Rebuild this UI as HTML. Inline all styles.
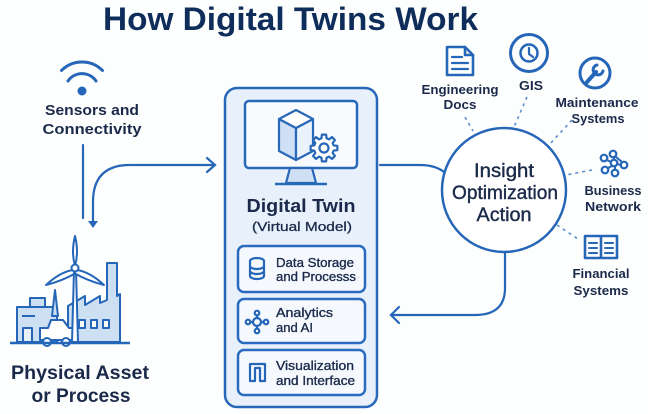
<!DOCTYPE html>
<html><head><meta charset="utf-8"><style>
html,body{margin:0;padding:0;background:#fff;}
svg{display:block;}
text{font-family:"Liberation Sans",Arial,sans-serif;}
</style></head><body>
<svg width="648" height="414" viewBox="0 0 648 414" xmlns="http://www.w3.org/2000/svg">
<rect width="648" height="414" fill="#fdfefe"/>
<!-- Title -->
<text x="103" y="30" font-size="32" font-weight="bold" fill="#0f2d5a" textLength="375" lengthAdjust="spacingAndGlyphs">How Digital Twins Work</text>

<!-- Wifi -->
<g fill="none" stroke="#2566b8" stroke-width="3" stroke-linecap="round">
<path d="M61.5,70.5 A29,29 0 0,1 102.5,70.5"/>
<path d="M68,81 A17,17 0 0,1 96,81"/>
</g>
<circle cx="82" cy="91" r="4.5" fill="#2566b8"/>
<text x="92" y="115" font-size="14.5" font-weight="bold" fill="#1b2a4a" text-anchor="middle" textLength="94" lengthAdjust="spacingAndGlyphs">Sensors and</text>
<text x="92" y="134" font-size="14.5" font-weight="bold" fill="#1b2a4a" text-anchor="middle" textLength="99" lengthAdjust="spacingAndGlyphs">Connectivity</text>

<!-- Left connectors -->
<g fill="none" stroke="#2566b8" stroke-width="2.2" stroke-linecap="round">
<line x1="83" y1="145" x2="83" y2="218"/>
<path d="M93,222 V202 Q93,165 130,165 H214"/>
<path d="M207,158 L215,165 L207,172"/>
</g>
<path d="M88,221 L98,221 L93,228 Z" fill="#2566b8"/>

<!-- Factory -->
<g stroke="#2566b8" stroke-width="2" stroke-linejoin="round" fill="#cddff3">
<path d="M68,342 V306 L85,296 V305 L100,296 V303 L107,300 V263 H117 V296 L120,294 V342 Z"/>
<rect x="17" y="307" width="40" height="35"/>
<rect x="30" y="298" width="15" height="9"/>
<path d="M52,316 L55,290 L58,316 Z"/>
<rect x="23" y="328" width="9" height="14" fill="#e8f0fa"/>
<path d="M40,340 V328 H48 L51,320 H63 L69,328 H73 V340 Z" fill="#fff"/>
<circle cx="47" cy="342" r="4" fill="#fff"/>
<circle cx="66" cy="342" r="4" fill="#fff"/>
<path d="M72,342 L74,270 L76,270 L78,342 Z" fill="#fff"/>
<path d="M75,266 Q71,252 75,236 Q79,252 75,266 Z" fill="#fff"/>
<path d="M73,270 Q60,272 46,285 Q62,281 76,273 Z" fill="#fff"/>
<path d="M77,270 Q90,272 104,285 Q88,281 74,273 Z" fill="#fff"/>
<circle cx="75" cy="268" r="3.5" fill="#fff"/>
<rect x="79" y="320" width="6" height="8" fill="#fff"/>
<rect x="91" y="320" width="6" height="8" fill="#fff"/>
<rect x="103" y="320" width="6" height="8" fill="#fff"/>
</g>
<line x1="22" y1="316" x2="35" y2="316" stroke="#2566b8" stroke-width="2"/>
<line x1="10" y1="343" x2="130" y2="343" stroke="#2566b8" stroke-width="2.5"/>
<text x="80" y="379" font-size="19" font-weight="bold" fill="#1b2a4a" text-anchor="middle" textLength="138" lengthAdjust="spacingAndGlyphs">Physical Asset</text>
<text x="81" y="402" font-size="19" font-weight="bold" fill="#1b2a4a" text-anchor="middle" textLength="99" lengthAdjust="spacingAndGlyphs">or Process</text>

<!-- Digital Twin box -->
<rect x="225" y="88" width="152" height="319" rx="12" fill="#e7f0fb" stroke="#2868b8" stroke-width="2.5"/>
<rect x="245" y="101" width="112" height="67" rx="4" fill="#f8fbfe" stroke="#2868b8" stroke-width="2.5"/>
<path d="M290,168 L312,168 L316,183 L286,183 Z" fill="#cfe0f4" stroke="#2868b8" stroke-width="2.2" stroke-linejoin="round"/>
<line x1="275" y1="184" x2="327" y2="184" stroke="#2868b8" stroke-width="2.5"/>
<!-- cube -->
<g stroke="#2868b8" stroke-width="2.2" stroke-linejoin="round">
<path d="M279,119 L296,128 L296,160 L279,151 Z" fill="#cfe0f4"/>
<path d="M296,128 L313,119 L313,151 L296,160 Z" fill="#eaf2fb"/>
<path d="M296,110 L313,119 L296,128 L279,119 Z" fill="#fff"/>
</g>
<!-- gear -->
<g transform="translate(324,148)">
<polygon points="9.66,-2.59 13.34,-2.11 13.34,2.11 9.66,2.59 8.66,5 10.92,7.94 7.94,10.92 5,8.66 2.59,9.66 2.11,13.34 -2.11,13.34 -2.59,9.66 -5,8.66 -7.94,10.92 -10.92,7.94 -8.66,5 -9.66,2.59 -13.34,2.11 -13.34,-2.11 -9.66,-2.59 -8.66,-5 -10.92,-7.94 -7.94,-10.92 -5,-8.66 -2.59,-9.66 -2.11,-13.34 2.11,-13.34 2.59,-9.66 5,-8.66 7.94,-10.92 10.92,-7.94 8.66,-5" fill="#fff" stroke="#2868b8" stroke-width="2.2" stroke-linejoin="round"/>
<circle r="4.5" fill="none" stroke="#2868b8" stroke-width="2.2"/>
</g>
<text x="301" y="212" font-size="18" font-weight="bold" fill="#1b2a4a" text-anchor="middle" textLength="109" lengthAdjust="spacingAndGlyphs">Digital Twin</text>
<text x="302" y="231" font-size="13" fill="#1b2a4a" stroke="#1b2a4a" stroke-width="0.3" text-anchor="middle" textLength="100" lengthAdjust="spacingAndGlyphs">(Virtual Model)</text>

<!-- sub boxes -->
<g fill="#f5f9fe" stroke="#2a6bc0" stroke-width="2.5">
<rect x="238" y="246" width="127" height="46" rx="6"/>
<rect x="238" y="299" width="127" height="44" rx="6"/>
<rect x="238" y="350" width="127" height="45" rx="6"/>
</g>
<g fill="none" stroke="#2566b8" stroke-width="2.2" stroke-linecap="round" stroke-linejoin="round">
<path d="M250,261 A7,3 0 0,1 264,261 V276 A7,3 0 0,1 250,276 Z"/>
<path d="M250,266 A7,3 0 0,0 264,266 M250,271 A7,3 0 0,0 264,271"/>
<circle cx="257" cy="322" r="4"/>
<circle cx="257" cy="313" r="2.3"/>
<circle cx="257" cy="331" r="2.3"/>
<circle cx="248" cy="322" r="2.3"/>
<circle cx="266" cy="322" r="2.3"/>
<path d="M257,315.5 V318 M257,326 V328.5 M250.5,322 H253 M261,322 H263.5"/>
<path d="M250,381 V364 H265 V381 H260 V368 H255 V381 Z"/>
</g>
<g font-size="13" fill="#1b2a4a" stroke="#1b2a4a" stroke-width="0.35">
<text x="276" y="267" textLength="78" lengthAdjust="spacingAndGlyphs">Data Storage</text>
<text x="276" y="281" textLength="80" lengthAdjust="spacingAndGlyphs">and Processs</text>
<text x="276" y="317" textLength="57" lengthAdjust="spacingAndGlyphs">Analytics</text>
<text x="276" y="332" textLength="37" lengthAdjust="spacingAndGlyphs">and AI</text>
<text x="276" y="370" textLength="78" lengthAdjust="spacingAndGlyphs">Visualization</text>
<text x="276" y="385" textLength="79" lengthAdjust="spacingAndGlyphs">and Interface</text>
</g>

<!-- right connectors -->
<g fill="none" stroke="#2566b8" stroke-width="2.2" stroke-linecap="round">
<path d="M380,165 H420 Q435,165 444,172"/>
<path d="M505,252 V288 Q505,315 475,315 H391"/>
<path d="M399,307 L391,315 L399,323"/>
</g>

<!-- dashed lines -->
<g stroke="#5b8fd0" stroke-width="1.6" stroke-dasharray="3,4" fill="none">
<line x1="465" y1="117" x2="473" y2="131"/>
<line x1="527" y1="97" x2="514" y2="127"/>
<line x1="572" y1="120" x2="549" y2="145"/>
<line x1="592" y1="170" x2="566" y2="175"/>
<line x1="557" y1="225" x2="578" y2="239"/>
</g>

<!-- circle -->
<circle cx="504" cy="190" r="62" fill="#fff" stroke="#2566b8" stroke-width="2.5"/>
<g font-size="19" fill="#1b2a4a" stroke="#1b2a4a" stroke-width="0.4" text-anchor="middle">
<text x="504" y="177" textLength="60" lengthAdjust="spacingAndGlyphs">Insight</text>
<text x="505" y="199" textLength="106" lengthAdjust="spacingAndGlyphs">Optimization</text>
<text x="504" y="221" textLength="55" lengthAdjust="spacingAndGlyphs">Action</text>
</g>

<!-- peripheral icons -->
<g fill="none" stroke="#2566b8" stroke-width="2.6" stroke-linejoin="round" stroke-linecap="round">
<path d="M447,47 H465 L473,55 V75 H447 Z" fill="#fff"/>
<path d="M465,47 V55 H473"/>
<path d="M452,57 H462 M452,63 H468 M452,69 H468" stroke-width="2.2"/>
<circle cx="529" cy="53" r="18.5" stroke-width="3"/>
<circle cx="529" cy="53" r="8.5" stroke-width="2.5"/>
<path d="M529,48 V54 L533,57" stroke-width="2.2"/>
<circle cx="595" cy="73" r="15" stroke-width="3"/>
<path d="M587,82 L596,72" stroke-width="4"/>
<path d="M597,65 A5,5 0 1,0 603,71" stroke-width="3"/>
<circle cx="604" cy="158" r="3.3" stroke-width="2.2"/>
<circle cx="613" cy="154" r="3.3" stroke-width="2.2"/>
<circle cx="624" cy="165" r="3.3" stroke-width="2.2"/>
<circle cx="605" cy="170" r="3.3" stroke-width="2.2"/>
<circle cx="615" cy="173" r="3.3" stroke-width="2.2"/>
<circle cx="614" cy="163" r="3.3" stroke-width="2.2"/>
<path d="M607,160 L611,162 M614,157 V160 M617,164 L621,165 M612,166 L608,168 M615,166 V170 M616,157 L622,162" stroke-width="2"/>
<path d="M585,236 H601 V258 H585 Z M601,236 H617 V258 H601 Z" fill="#fff"/>
<path d="M589,243 H597 M589,248 H597 M589,253 H597 M605,243 H613 M605,248 H613 M605,253 H613" stroke-width="2"/>
</g>

<g font-size="13" font-weight="bold" fill="#1b2a4a" text-anchor="middle">
<text x="460" y="94" textLength="77" lengthAdjust="spacingAndGlyphs">Engineering</text>
<text x="460" y="109" textLength="33" lengthAdjust="spacingAndGlyphs">Docs</text>
<text x="531" y="90" textLength="24" lengthAdjust="spacingAndGlyphs">GIS</text>
<text x="597" y="107" textLength="83" lengthAdjust="spacingAndGlyphs">Maintenance</text>
<text x="598" y="123" textLength="53" lengthAdjust="spacingAndGlyphs">Systems</text>
<text x="613" y="195" textLength="57" lengthAdjust="spacingAndGlyphs">Business</text>
<text x="613" y="211" textLength="56" lengthAdjust="spacingAndGlyphs">Network</text>
<text x="601" y="278" textLength="57" lengthAdjust="spacingAndGlyphs">Financial</text>
<text x="601" y="295" textLength="55" lengthAdjust="spacingAndGlyphs">Systems</text>
</g>
</svg>
</body></html>
